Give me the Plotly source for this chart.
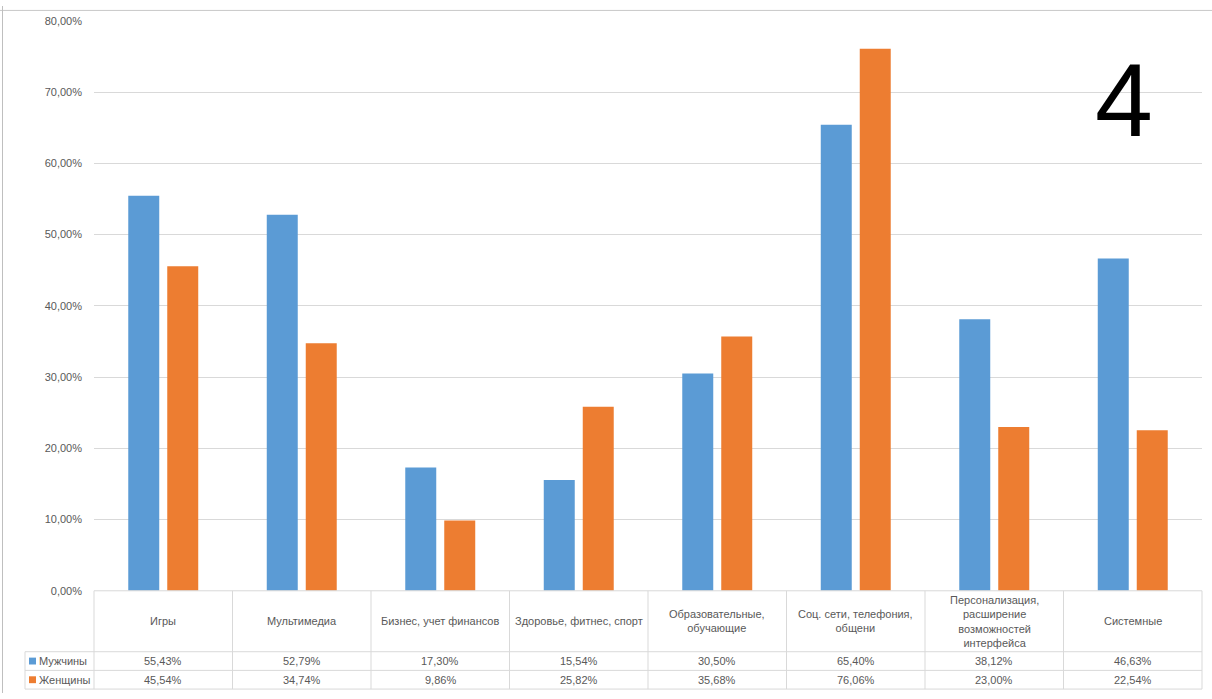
import plotly.graph_objects as go

categories = ["Игры", "Мультимедиа", "Бизнес, учет финансов", "Здоровье, фитнес, спорт",
              "Образовательные,<br>обучающие", "Соц. сети, телефония,<br>общени",
              "Персонализация,<br>расширение<br>возможностей<br>интерфейса", "Системные"]
men = [55.43, 52.79, 17.30, 15.54, 30.50, 65.40, 38.12, 46.63]
women = [45.54, 34.74, 9.86, 25.82, 35.68, 76.06, 23.00, 22.54]
series_names = ["Мужчины", "Женщины"]
colors = ["#5B9BD5", "#ED7D31"]
y_ticks = [0, 10, 20, 30, 40, 50, 60, 70, 80]

W, H = 1212, 699
def px_x(x): return x / W
def px_y(y): return 1 - y / H

plot_left, plot_right = 94, 1202
plot_top, plot_bottom = 15, 595
n = len(categories)
col_w = (plot_right - plot_left) / n
FONT = "Liberation Sans"
GRAY = "#595959"
LINE = "#d9d9d9"

fig = go.Figure()
for name, vals, c in zip(series_names, [men, women], colors):
    fig.add_bar(x=list(range(n)), y=[v / 100 for v in vals], name=name, marker_color=c,
                marker_line_width=0, showlegend=False)

fig.update_layout(
    width=W, height=H, margin=dict(l=0, r=0, t=0, b=0),
    paper_bgcolor="white", plot_bgcolor="white",
    barmode="group", bargap=0.437, bargroupgap=0.205,
    separators=", ",
    font=dict(family=FONT, size=11, color=GRAY),
    xaxis=dict(domain=[px_x(plot_left), px_x(plot_right)], range=[-0.5, n - 0.5],
               showticklabels=False, showgrid=False, zeroline=False, showline=False, fixedrange=True),
    yaxis=dict(domain=[px_y(plot_bottom), px_y(plot_top)], range=[0, 0.8],
               tickvals=[t / 100 for t in y_ticks], tickformat=".2%",
               showgrid=True, gridcolor=LINE, gridwidth=1, zeroline=False, showline=False,
               ticklabelstandoff=11, tickfont=dict(size=11, color=GRAY)),
)

shapes = []
def hline(x0, x1, y, color=LINE):
    shapes.append(dict(type="line", xref="paper", yref="paper", x0=px_x(x0), x1=px_x(x1),
                       y0=px_y(y), y1=px_y(y), line=dict(color=color, width=1)))
def vline(x, y0, y1, color=LINE):
    shapes.append(dict(type="line", xref="paper", yref="paper", x0=px_x(x), x1=px_x(x),
                       y0=px_y(y0), y1=px_y(y1), line=dict(color=color, width=1)))

row_header_bottom, row1_bottom, row2_bottom = 657, 676, 695
legend_left = 25
hline(plot_left, plot_right, plot_bottom)
hline(legend_left, plot_right, row_header_bottom)
hline(legend_left, plot_right, row1_bottom)
hline(legend_left, plot_right, row2_bottom)
for i in range(n + 1):
    vline(plot_left + i * col_w, plot_bottom, row2_bottom)
vline(legend_left, row_header_bottom, row2_bottom)

# spreadsheet frame fragments
hline(0, W, 4.5, "#c8c8c8")
vline(2.5, 0, H, "#bfbfbf")

# legend keys
for k, c in enumerate(colors):
    yc = (row_header_bottom + row1_bottom) / 2 + k * 19
    shapes.append(dict(type="rect", xref="paper", yref="paper", x0=px_x(29), x1=px_x(36),
                       y0=px_y(yc + 3.5), y1=px_y(yc - 3.5), fillcolor=c, line=dict(width=0)))

ann = []
for i, cat in enumerate(categories):
    ann.append(dict(x=i, xref="x", y=px_y((plot_bottom + row_header_bottom) / 2), yref="paper",
                    text=cat, showarrow=False, xanchor="center", yanchor="middle",
                    font=dict(size=11, color=GRAY, family=FONT)))
    for k, vals in enumerate([men, women]):
        yc = (row_header_bottom + row1_bottom) / 2 + k * 19
        txt = f"{vals[i]:.2f}%".replace(".", ",")
        ann.append(dict(x=i, xref="x", y=px_y(yc), yref="paper", text=txt, showarrow=False,
                        xanchor="center", yanchor="middle",
                        font=dict(size=11, color=GRAY, family=FONT)))
for k, name in enumerate(series_names):
    yc = (row_header_bottom + row1_bottom) / 2 + k * 19
    ann.append(dict(x=px_x(37), xref="paper", y=px_y(yc), yref="paper", text=name,
                    showarrow=False, xanchor="left", yanchor="middle",
                    font=dict(size=11, color=GRAY, family=FONT)))

ann.append(dict(x=px_x(1124), xref="paper", y=px_y(96), yref="paper", text="4",
                showarrow=False, xanchor="center", yanchor="middle",
                font=dict(size=104, color="black", family=FONT)))

fig.update_layout(shapes=shapes, annotations=ann)

post = (
    "var d=document.getElementById('{plot_id}');"
    "document.documentElement.style.overflow='hidden';"
    "document.body.style.margin='0';document.body.style.padding='0';"
    "document.body.style.overflow='hidden';"
    "d.style.position='fixed';d.style.left='0px';d.style.top='0px';"
)
fig.write_html("out.html", config={"displayModeBar": False}, post_script=post)
